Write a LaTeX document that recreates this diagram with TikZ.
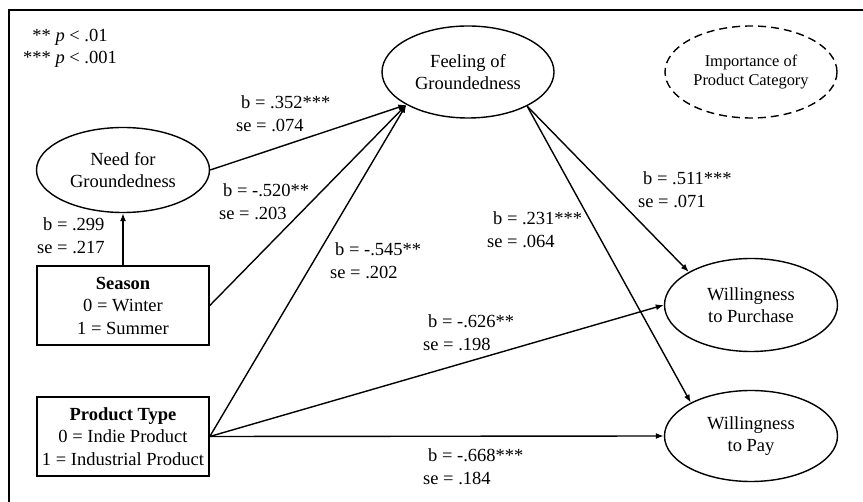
\documentclass[tikz,border=0pt]{standalone}
\usepackage{fontspec}
\setmainfont{Liberation Serif}
\usetikzlibrary{shapes.geometric,arrows.meta}

\begin{document}
\begin{tikzpicture}[x=1pt,y=-1pt,
    every node/.style={font=\fontsize{18.5}{22.5}\selectfont},
    latent/.style={ellipse,draw,line width=1.4pt,inner sep=0pt,align=center},
    observed/.style={rectangle,draw,line width=1.6pt,minimum width=172pt,minimum height=79pt,inner sep=2pt,align=center},
    coef/.style={anchor=north west,inner sep=0pt,align=left},
    effect/.style={line width=1.4pt,-{Latex[length=8pt,width=6pt]}}]
              \clip (0,0) rectangle (863,502);
              \draw[line width=1.8pt] (9,10) rectangle (880,520);
              % significance legend
              \node[anchor=north,align=center,inner sep=0pt] (sig) at (70,29) {** \textit{p} < .01\\*** \textit{p} < .001};
              % latent variables
              \node[latent,minimum width=173pt,minimum height=85pt] (need) at (123,170) {Need for\\Groundedness};
              \node[latent,minimum width=172pt,minimum height=92pt] (feel) at (468,72) {Feeling of\\Groundedness};
              \node[latent,dashed,dash pattern=on 8pt off 5pt,minimum width=172pt,minimum height=92pt,
                    font=\fontsize{16.4}{18.5}\selectfont] (imp) at (751,72) {Importance of\\Product Category};
              \node[latent,minimum width=173pt,minimum height=93pt] (purch) at (751,305) {Willingness\\to Purchase};
              \node[latent,minimum width=173pt,minimum height=91pt] (pay) at (751,436) {Willingness\\to Pay};
              % manipulated factors
              \node[observed] (season) at (123,305.5) {\textbf{Season}\\0 = Winter\\1 = Summer};
              \node[observed] (ptype) at (123,436.5) {\textbf{Product Type}\\0 = Indie Product\\1 = Industrial Product};
              % paths
              \draw[effect] (season.north) -- (need.south);
              \draw[effect] (need.east) -- (feel.208);
              \draw[effect] (season.east) -- (feel.208);
              \draw[effect] (ptype.east) -- (feel.208);
              \draw[effect] (ptype.east) -- (purch.west);
              \draw[effect] (ptype.east) -- (pay.west);
              \draw[effect] (feel.-30) -- (purch.152);
              \draw[effect] (feel.-30) -- (pay.151);
              % coefficients
              \node[coef] (c1) at (236,95.5) {\hspace*{5pt}b = .352***\\se = .074};
              \node[coef] (c2) at (219,183.5) {\hspace*{4pt}b = -.520**\\se = .203};
              \node[coef] (c3) at (330,242.5) {\hspace*{5pt}b = -.545**\\se = .202};
              \node[coef] (c4) at (487,211.5) {\hspace*{6pt}b = .231***\\se = .064};
              \node[coef] (c5) at (638,171.5) {\hspace*{5pt}b = .511***\\se = .071};
              \node[coef] (c6) at (37,217.5) {\hspace*{6pt}b = .299\\se = .217};
              \node[coef] (c7) at (423,314.5) {\hspace*{5pt}b = -.626**\\se = .198};
              \node[coef] (c8) at (423,448.5) {\hspace*{5pt}b = -.668***\\se = .184};
\end{tikzpicture}
\end{document}
